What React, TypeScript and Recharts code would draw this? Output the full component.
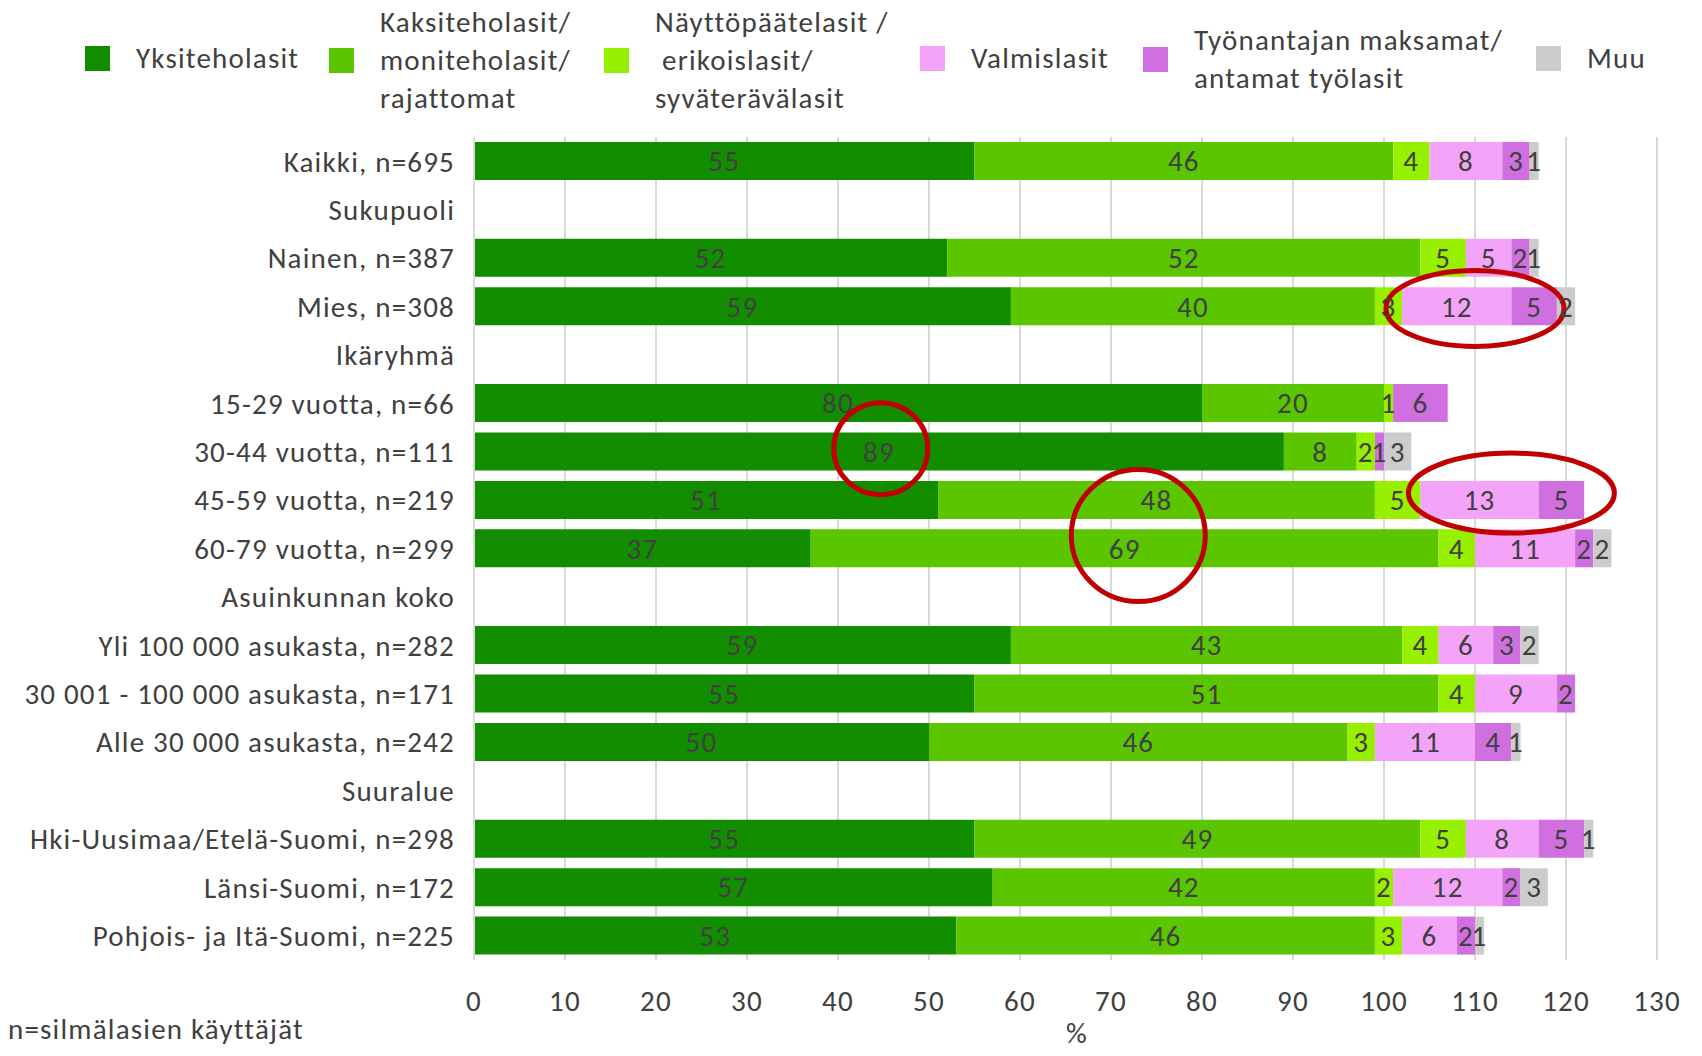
import React from 'react';
import {
  BarChart,
  Bar,
  XAxis,
  YAxis,
  CartesianGrid,
  LabelList,
  ReferenceDot,
} from 'recharts';

const categories = [
  'Kaikki, n=695',
  'Sukupuoli',
  'Nainen, n=387',
  'Mies, n=308',
  'Ikäryhmä',
  '15-29 vuotta, n=66',
  '30-44 vuotta, n=111',
  '45-59 vuotta, n=219',
  '60-79 vuotta, n=299',
  'Asuinkunnan koko',
  'Yli 100 000 asukasta, n=282',
  '30 001 - 100 000 asukasta, n=171',
  'Alle 30 000 asukasta, n=242',
  'Suuralue',
  'Hki-Uusimaa/Etelä-Suomi, n=298',
  'Länsi-Suomi, n=172',
  'Pohjois- ja Itä-Suomi, n=225',
];

const yksi = [55, null, 52, 59, null, 80, 89, 51, 37, null, 59, 55, 50, null, 55, 57, 53];
const kaksi = [46, null, 52, 40, null, 20, 8, 48, 69, null, 43, 51, 46, null, 49, 42, 46];
const naytto = [4, null, 5, 3, null, 1, 2, 5, 4, null, 4, 4, 3, null, 5, 2, 3];
const valmis = [8, null, 5, 12, null, 0, 0, 13, 11, null, 6, 9, 11, null, 8, 12, 6];
const tyonantaja = [3, null, 2, 5, null, 6, 1, 5, 2, null, 3, 2, 4, null, 5, 2, 2];
const muu = [1, null, 1, 2, null, 0, 3, 0, 2, null, 2, 0, 1, null, 1, 3, 1];

const xTicks = [0, 10, 20, 30, 40, 50, 60, 70, 80, 90, 100, 110, 120, 130];

const series = [
  { key: 'yksi', values: yksi, color: '#138D00', legend: ['Yksiteholasit'] },
  { key: 'kaksi', values: kaksi, color: '#5BC500', legend: ['Kaksiteholasit/', 'moniteholasit/', 'rajattomat'] },
  { key: 'naytto', values: naytto, color: '#97F000', legend: ['Näyttöpäätelasit /', ' erikoislasit/', 'syväterävälasit'] },
  { key: 'valmis', values: valmis, color: '#F4A4F8', legend: ['Valmislasit'] },
  { key: 'tyonantaja', values: tyonantaja, color: '#D070E0', legend: ['Työnantajan maksamat/', 'antamat työlasit'] },
  { key: 'muu', values: muu, color: '#CCCCCC', legend: ['Muu'] },
];

const data = categories.map((name, i) => {
  const row: Record<string, string | number | null> = { name };
  series.forEach((s) => {
    row[s.key] = s.values[i];
  });
  return row;
});

const FONT = "Carlito, 'Liberation Sans Narrow', Lato, sans-serif";
const TEXT = '#404040';
const FS = 29;
const LS = 1.2;

// legend layout (left x of square, center y of first text line)
const legendPos = [
  { x: 85, y: 58 },
  { x: 329, y: 22 },
  { x: 604, y: 22 },
  { x: 920, y: 58 },
  { x: 1143, y: 40 },
  { x: 1536, y: 58 },
];

const Ellipse = (rx: number, ry: number, dy: number) => (props: any) => (
  <ellipse
    cx={props.cx}
    cy={props.cy + dy}
    rx={rx}
    ry={ry}
    fill="none"
    stroke="#C00000"
    strokeWidth={5}
  />
);

const fmt = (v: any) => (v ? v : '');

const textStyle = { fill: TEXT, fontSize: FS, fontFamily: FONT, letterSpacing: LS };
const htmlText = {
  position: 'absolute' as const,
  fontSize: FS,
  letterSpacing: LS,
  lineHeight: '38px',
  color: TEXT,
  whiteSpace: 'nowrap' as const,
};

export default function App() {
  return (
    <div style={{ position: 'absolute', left: 0, top: 0, width: 1702, height: 1056, fontFamily: FONT, background: '#fff', overflow: 'hidden' }}>
      <BarChart
        width={1702}
        height={1056}
        data={data}
        layout="vertical"
        margin={{ top: 137, right: 45, bottom: 0, left: 0 }}
        barCategoryGap={10}
        style={{ position: 'absolute', left: 0, top: 0 }}
      >
        <CartesianGrid horizontal={false} stroke="#D9D9D9" strokeWidth={2} />
        <XAxis
          type="number"
          domain={[0, 130]}
          ticks={xTicks}
          interval={0}
          height={96}
          axisLine={false}
          tickLine={false}
          tickMargin={24}
          tick={textStyle}
        />
        <YAxis
          type="category"
          dataKey="name"
          width={474}
          interval={0}
          axisLine={{ stroke: '#D9D9D9', strokeWidth: 2 }}
          tickLine={false}
          tickMargin={13}
          tick={textStyle}
        />
        {series.map((s) => (
          <Bar key={s.key} dataKey={s.key} stackId="a" fill={s.color} barSize={38} isAnimationActive={false}>
            <LabelList dataKey={s.key} position="center" formatter={fmt} style={textStyle} />
          </Bar>
        ))}
        <ReferenceDot x={110} y="Mies, n=308" r={1} shape={Ellipse(89, 38, 2)} />
        <ReferenceDot x={44.7} y="30-44 vuotta, n=111" r={1} shape={Ellipse(47, 46, -3)} />
        <ReferenceDot x={114} y="45-59 vuotta, n=219" r={1} shape={Ellipse(103, 40, -7)} />
        <ReferenceDot x={73} y="60-79 vuotta, n=299" r={1} shape={Ellipse(67, 66, -13)} />
      </BarChart>
      {series.map((s, i) => (
        <div key={s.key}>
          <div
            style={{
              position: 'absolute',
              left: legendPos[i].x,
              top: (s.legend.length === 1 ? legendPos[i].y : i === 4 ? 59 : 60) - 12,
              width: 25,
              height: 25,
              background: s.color,
            }}
          />
          {s.legend.map((line, j) => (
            <div
              key={j}
              style={{
                ...htmlText,
                left: legendPos[i].x + 51 + (line.startsWith(' ') ? 7 : 0),
                top: legendPos[i].y + j * 38 - 19,
                height: 38,
              }}
            >
              {line.trim()}
            </div>
          ))}
        </div>
      ))}
      <div style={{ ...htmlText, left: 8, top: 1010 }}>n=silmälasien käyttäjät</div>
      <div style={{ ...htmlText, left: 1066, top: 1018, lineHeight: '30px', height: 30 }}>%</div>
    </div>
  );
}
